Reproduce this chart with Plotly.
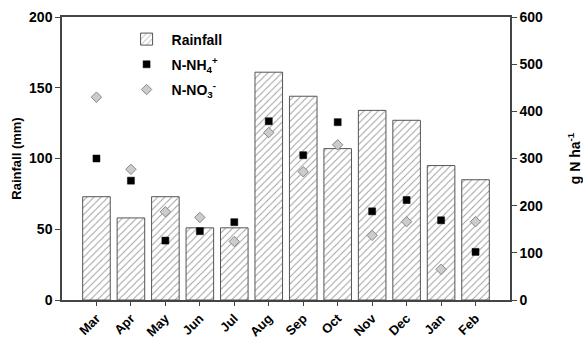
import plotly.graph_objects as go

months = ["Mar", "Apr", "May", "Jun", "Jul", "Aug", "Sep", "Oct", "Nov", "Dec", "Jan", "Feb"]
rainfall = [73, 58, 73, 51, 51, 161, 144, 107, 134, 127, 95, 85]
nh4 = [300, 253, 126, 146, 165, 379, 307, 377, 188, 212, 169, 102]
no3 = [430, 277, 187, 175, 124, 355, 272, 329, 137, 166, 65, 166]

font_family = "Liberation Sans, Arial, sans-serif"
bold14 = dict(family=font_family, size=14, color="black", weight="bold")

fig = go.Figure()
fig.add_trace(go.Bar(
    x=months, y=rainfall, name="Rainfall", width=0.8, legendgroup="a",
    marker=dict(color="white", line=dict(color="#555555", width=1),
                pattern=dict(shape="/", fgcolor="#333333", bgcolor="white", size=5, solidity=0.18)),
))
fig.add_trace(go.Scatter(
    x=months, y=nh4, name="N-NH<sub>4</sub><sup>+</sup>", mode="markers", yaxis="y2", legendgroup="b",
    marker=dict(symbol="square", size=7, color="black", line=dict(color="black", width=0.5)),
))
fig.add_trace(go.Scatter(
    x=months, y=no3, name="N-NO<sub>3</sub><sup>-</sup>", mode="markers", yaxis="y2", legendgroup="c",
    marker=dict(symbol="diamond", size=8, color="#cccccc", line=dict(color="#888888", width=1)),
))

fig.update_layout(
    width=583, height=341,
    margin=dict(l=62, r=73, t=17, b=41, autoexpand=False),
    plot_bgcolor="white", paper_bgcolor="white",
    font=dict(family=font_family, size=14, color="black"),
    showlegend=True,
    legend=dict(x=0.133, y=0.977, xanchor="left", yanchor="top", bgcolor="rgba(0,0,0,0)",
                font=bold14, tracegroupgap=4, itemwidth=40),
    xaxis=dict(range=[-1, 12], tickangle=-45, showline=True, linecolor="#444444", linewidth=1.5,
               ticks="outside", ticklen=4, tickcolor="#444444", mirror=True, automargin=False,
               tickfont=dict(family=font_family, size=13, color="black", weight="bold"), showgrid=False),
    yaxis=dict(range=[0, 200], dtick=50, showline=True, linecolor="#444444", linewidth=1.5,
               ticks="outside", ticklen=5, tickcolor="#444444", showgrid=False, zeroline=False,
               tickfont=bold14, automargin=False,
               title=dict(text="<b>Rainfall (mm)</b>", font=dict(family=font_family, size=13), standoff=5)),
    yaxis2=dict(range=[0, 600], dtick=100, overlaying="y", side="right", showline=True,
                linecolor="#444444", linewidth=1.5, ticks="outside", ticklen=5, tickcolor="#444444",
                showgrid=False, zeroline=False, tickfont=bold14, automargin=False,
                title=dict(text="<b>g N ha<sup>-1</sup></b>", font=dict(family=font_family, size=14), standoff=28)),
)

# remove the browser's default body margin so the 583x341 figure fills the window exactly
fig.write_html("out.html", config={"displayModeBar": False},
               post_script="document.body.style.margin='0';document.body.style.overflow='hidden';")
